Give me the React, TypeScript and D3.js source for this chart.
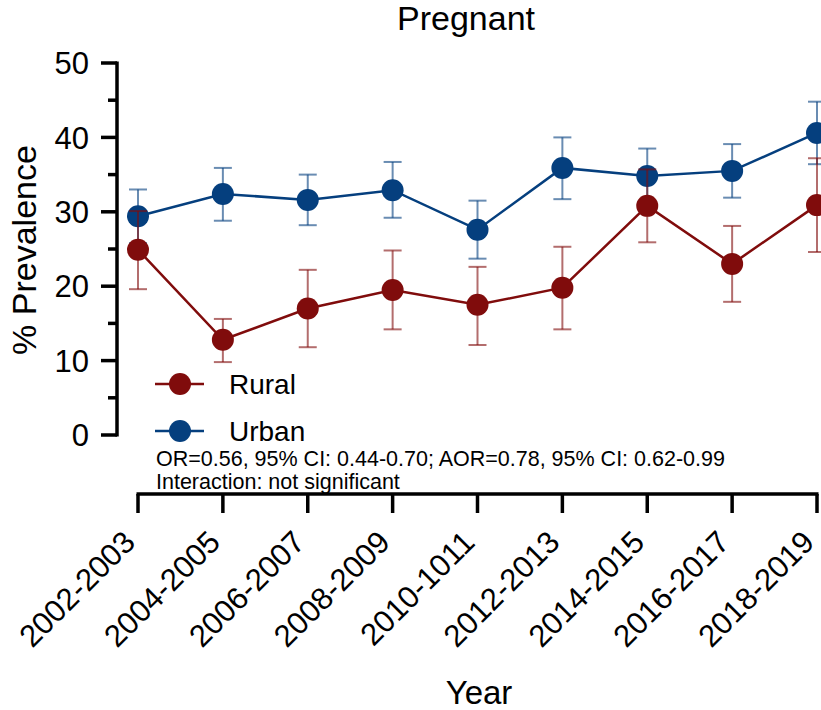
import React, { useEffect, useRef } from 'react';
import * as d3 from 'd3';

const years = ['2002-2003', '2004-2005', '2006-2007', '2008-2009', '2010-1011', '2012-2013', '2014-2015', '2016-2017', '2018-2019'];

const urbanMean = [29.4, 32.4, 31.6, 32.9, 27.6, 35.9, 34.8, 35.5, 40.6];
const urbanLow = [25.8, 28.8, 28.2, 29.2, 23.7, 31.7, 31.0, 31.9, 36.4];
const urbanHigh = [33.0, 35.9, 35.0, 36.7, 31.5, 40.0, 38.5, 39.1, 44.8];

const ruralMean = [24.9, 12.8, 17.0, 19.5, 17.5, 19.8, 30.8, 23.0, 30.9];
const ruralLow = [19.6, 9.8, 11.8, 14.2, 12.1, 14.2, 25.9, 17.9, 24.6];
const ruralHigh = [30.1, 15.6, 22.2, 24.8, 22.6, 25.3, 35.7, 28.1, 37.2];

const yTicks = [0, 10, 20, 30, 40, 50];
const yMinorTicks = [5, 15, 25, 35, 45];

const notes = ['OR=0.56, 95% CI: 0.44-0.70; AOR=0.78, 95% CI: 0.62-0.99', 'Interaction: not significant'];

const FONT = 'Liberation Sans, Arial, sans-serif';
const RED = '#800C0C';
const BLUE = '#053F7E';

export default function App() {
  const svgRef = useRef<SVGSVGElement>(null);

  useEffect(() => {
    document.body.style.margin = '0';
    if (!svgRef.current) return;
    const svg = d3.select(svgRef.current);
    svg.selectAll('*').remove();

    const x = d3.scalePoint<string>().domain(years).range([138, 817]);
    const y = d3.scaleLinear().domain([0, 50]).range([435, 63]);

    // title
    svg.append('text')
      .attr('x', 466).attr('y', 30)
      .attr('text-anchor', 'middle')
      .attr('font-family', FONT).attr('font-size', 34)
      .text('Pregnant');

    // y axis
    const axisX = 117;
    svg.append('line')
      .attr('x1', axisX).attr('x2', axisX)
      .attr('y1', y(50) - 1.5).attr('y2', y(0) + 1.5)
      .attr('stroke', '#000').attr('stroke-width', 3.5);
    yTicks.forEach((t) => {
      svg.append('line')
        .attr('x1', axisX - 16).attr('x2', axisX)
        .attr('y1', y(t)).attr('y2', y(t))
        .attr('stroke', '#000').attr('stroke-width', 3.5);
      svg.append('text')
        .attr('x', 89).attr('y', y(t))
        .attr('dy', '0.36em')
        .attr('text-anchor', 'end')
        .attr('font-family', FONT).attr('font-size', 31)
        .text(t);
    });
    yMinorTicks.forEach((t) => {
      svg.append('line')
        .attr('x1', axisX - 9).attr('x2', axisX)
        .attr('y1', y(t)).attr('y2', y(t))
        .attr('stroke', '#000').attr('stroke-width', 3.5);
    });

    svg.append('text')
      .attr('transform', `translate(36,250) rotate(-90)`)
      .attr('text-anchor', 'middle')
      .attr('font-family', FONT).attr('font-size', 34)
      .text('% Prevalence');

    // x axis
    const axisY = 494;
    svg.append('line')
      .attr('x1', x(years[0])! - 1.5).attr('x2', x(years[years.length - 1])! + 1.5)
      .attr('y1', axisY).attr('y2', axisY)
      .attr('stroke', '#000').attr('stroke-width', 3.5);
    years.forEach((yr) => {
      const xx = x(yr)!;
      svg.append('line')
        .attr('x1', xx).attr('x2', xx)
        .attr('y1', axisY).attr('y2', axisY + 19)
        .attr('stroke', '#000').attr('stroke-width', 3.5);
      svg.append('text')
        .attr('transform', `translate(${xx - 1},544) rotate(-45)`)
        .attr('text-anchor', 'end')
        .attr('font-family', FONT).attr('font-size', 31)
        .text(yr);
    });

    svg.append('text')
      .attr('x', 479).attr('y', 704)
      .attr('text-anchor', 'middle')
      .attr('font-family', FONT).attr('font-size', 33)
      .text('Year');

    // series: urban first, rural on top
    const series = [
      { name: 'Urban', mean: urbanMean, low: urbanLow, high: urbanHigh, color: BLUE },
      { name: 'Rural', mean: ruralMean, low: ruralLow, high: ruralHigh, color: RED },
    ];

    const line = d3.line<number>()
      .x((_, i) => x(years[i])!)
      .y((d) => y(d));

    series.forEach((s) => {
      const g = svg.append('g');
      years.forEach((yr, i) => {
        const xx = x(yr)!;
        g.append('line')
          .attr('x1', xx).attr('x2', xx)
          .attr('y1', y(s.low[i])).attr('y2', y(s.high[i]))
          .attr('stroke', s.color).attr('stroke-opacity', 0.6).attr('stroke-width', 2);
        [s.low[i], s.high[i]].forEach((v) => {
          g.append('line')
            .attr('x1', xx - 9).attr('x2', xx + 9)
            .attr('y1', y(v)).attr('y2', y(v))
            .attr('stroke', s.color).attr('stroke-opacity', 0.6).attr('stroke-width', 2);
        });
      });
      g.append('path')
        .attr('d', line(s.mean))
        .attr('fill', 'none')
        .attr('stroke', s.color).attr('stroke-width', 2.5);
      years.forEach((yr, i) => {
        g.append('circle')
          .attr('cx', x(yr)!).attr('cy', y(s.mean[i]))
          .attr('r', 11)
          .attr('fill', s.color);
      });
    });

    // legend
    const legend = [
      { name: 'Rural', color: RED, y: 384 },
      { name: 'Urban', color: BLUE, y: 431 },
    ];
    legend.forEach((l) => {
      svg.append('line')
        .attr('x1', 155).attr('x2', 204)
        .attr('y1', l.y).attr('y2', l.y)
        .attr('stroke', l.color).attr('stroke-width', 2.5);
      svg.append('circle')
        .attr('cx', 180).attr('cy', l.y).attr('r', 11).attr('fill', l.color);
      svg.append('text')
        .attr('x', 229).attr('y', l.y)
        .attr('dy', '0.36em')
        .attr('font-family', FONT).attr('font-size', 28)
        .text(l.name);
    });

    notes.forEach((n, i) => {
      svg.append('text')
        .attr('x', 156).attr('y', 466 + i * 23)
        .attr('font-family', FONT).attr('font-size', 21.5)
        .text(n);
    });
  }, []);

  return <svg ref={svgRef} width={821} height={710} style={{ display: 'block' }} />;
}
